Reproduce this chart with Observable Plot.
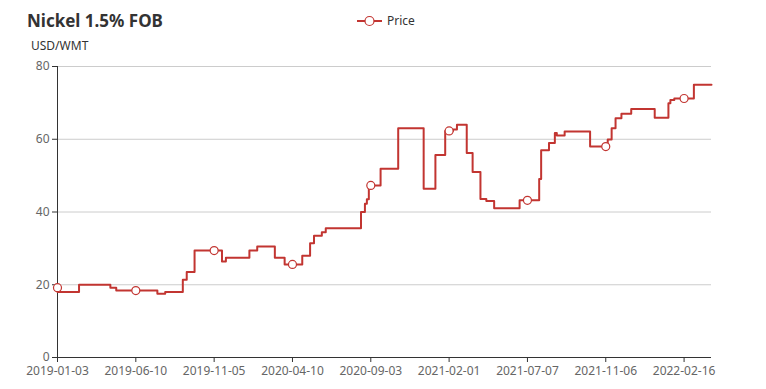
<!DOCTYPE html>
<html>
<head>
<meta charset="utf-8">
<script src="https://cdn.jsdelivr.net/npm/d3@7"></script>
<script src="https://cdn.jsdelivr.net/npm/@observablehq/plot@0.6"></script>
<style>
  html, body { margin: 0; padding: 0; background: #fff; }
  #wrap { position: relative; width: 766px; height: 389px; font-family: "Noto Sans", "Open Sans", sans-serif; }
  #title { position: absolute; left: 27px; top: 9px; font-size: 17px; font-weight: bold; color: #333; }
  #unit { position: absolute; left: 31px; top: 37px; font-size: 12px; color: #333; }
  #legend { position: absolute; left: 357px; top: 12px; font-size: 12px; color: #333; display: flex; align-items: center; }
  #legend svg { margin-right: 5px; }
  #chart { position: absolute; left: 0; top: 0; }
</style>
</head>
<body>
<div id="wrap">
  <div id="chart"></div>
  <div id="title">Nickel 1.5% FOB</div>
  <div id="unit">USD/WMT</div>
  <div id="legend"><svg width="25" height="14"><line x1="0" y1="7" x2="25" y2="7" stroke="#c23531" stroke-width="2"/><circle cx="12.5" cy="7" r="4.5" fill="#fff" stroke="#c23531" stroke-width="1.2"/></svg><span>Price</span></div>
</div>
<script>
// Category positions (index along the category axis) where the price changes, and the new price
const changeIndex = [0, 0, 11, 27, 30, 51, 55, 64, 66, 70, 84, 86, 98, 102, 111, 116, 125, 129, 131, 135, 137, 155, 157, 158, 159, 165, 174, 187, 193, 198, 202, 204, 209, 212, 216, 219, 223, 236, 246, 247, 251, 254, 255, 259, 272, 281, 283, 285, 288, 293, 305, 312, 313, 315, 325];
const priceValues = [19.2, 18.0, 20.0, 19.2, 18.4, 17.5, 18.0, 21.4, 23.5, 29.4, 26.4, 27.4, 29.4, 30.5, 27.4, 25.6, 28.0, 31.4, 33.5, 34.4, 35.5, 40.0, 42.3, 43.5, 47.3, 51.9, 63.0, 46.4, 55.7, 62.3, 62.7, 64.0, 56.2, 51.0, 43.6, 43.0, 41.0, 43.2, 49.1, 57.0, 59.0, 61.7, 61.0, 62.1, 58.0, 59.9, 63.0, 65.8, 67.0, 68.3, 65.9, 69.9, 70.8, 71.2, 75.0];
const lastIndex = 334;
// Labelled categories along the x axis
const tickIndex = [0, 40, 80, 120, 160, 200, 240, 280, 320];
const tickLabels = ["2019-01-03", "2019-06-10", "2019-11-05", "2020-04-10", "2020-09-03", "2021-02-01", "2021-07-07", "2021-11-06", "2022-02-16"];
const yTicks = [0, 20, 40, 60, 80];

const lineData = changeIndex.map((x, i) => ({x, y: priceValues[i]}));
lineData.push({x: lastIndex, y: priceValues[priceValues.length - 1]});

function valueAt(t) {
  if (t === 0) return priceValues[0];
  let v = priceValues[0];
  for (let i = 0; i < changeIndex.length; i++) if (changeIndex[i] < t) v = priceValues[i];
  return v;
}
const dots = tickIndex.map(t => ({x: t, y: valueAt(t)}));
const labelOf = new Map(tickIndex.map((t, i) => [t, tickLabels[i]]));

const chart = Plot.plot({
  width: 766,
  height: 389,
  marginLeft: 57,
  marginRight: 55,
  marginTop: 66,
  marginBottom: 32,
  style: {fontFamily: '"Noto Sans", "Open Sans", sans-serif', fontSize: "12px", color: "#666", background: "#fff"},
  x: {domain: [0, lastIndex], ticks: tickIndex, tickFormat: d => labelOf.get(d), label: null},
  y: {domain: [0, 80], ticks: yTicks, label: null},
  marks: [
    Plot.gridY(yTicks.filter(d => d > 0), {stroke: "#ccc", strokeOpacity: 1}),
    Plot.axisX({ticks: tickIndex, tickFormat: d => labelOf.get(d), tickSize: 5, tickPadding: 4, stroke: "#333", fill: "#666", label: null}),
    Plot.axisY({ticks: yTicks, tickSize: 5, tickPadding: 3, stroke: "#333", fill: "#666", label: null}),
    Plot.ruleX([0], {stroke: "#333"}),
    Plot.ruleY([0], {stroke: "#333"}),
    Plot.line(lineData, {x: "x", y: "y", curve: "step-after", stroke: "#c23531", strokeWidth: 2}),
    Plot.dot(dots, {x: "x", y: "y", r: 4, fill: "#fff", stroke: "#c23531", strokeWidth: 1.2})
  ]
});
document.getElementById("chart").appendChild(chart);
</script>
</body>
</html>
